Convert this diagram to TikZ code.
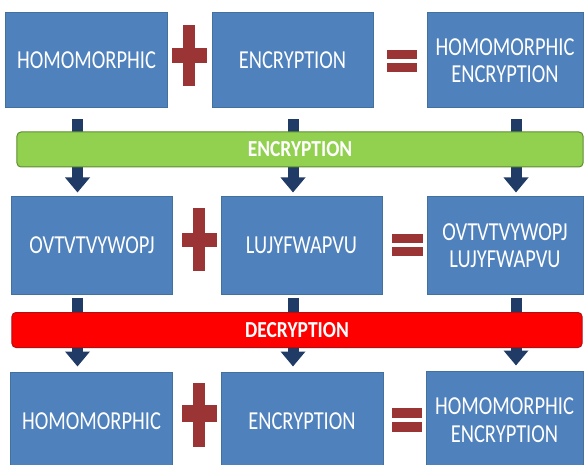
\documentclass[tikz,border=0pt]{standalone}
\usepackage{fontspec}
\setmainfont{Carlito}
\newfontfamily\boxfont[FakeStretch=0.79]{Carlito}
\newfontfamily\barfont[FakeStretch=0.85]{Carlito}
\usetikzlibrary{arrows.meta}
\definecolor{boxblue}{HTML}{4F81BD}
\definecolor{boxedge}{HTML}{41719C}
\definecolor{encgreen}{HTML}{92D050}
\definecolor{encedge}{HTML}{5E8C31}
\definecolor{decred}{HTML}{FF0000}
\definecolor{decedge}{HTML}{B01010}
\definecolor{flownavy}{HTML}{1F3B66}
\definecolor{signred}{HTML}{9B3535}
\begin{document}
\begin{tikzpicture}[x=1bp,y=-1bp,
  blk/.style={draw=boxedge,fill=boxblue,line width=1bp,text=white,align=center,
    inner sep=0pt,minimum height=95bp,font=\boxfont\fontsize{26}{27.5}\selectfont},
  bar/.style={draw,line width=1bp,rounded corners=4bp,minimum height=35bp,
    text=white,inner sep=0pt,font=\barfont\bfseries\fontsize{23}{24}\selectfont},
  flow/.style={draw=flownavy,line width=11bp,-{Triangle[width=24bp,length=15bp]}},
  sign/.style={fill=signred}]
\useasboundingbox (0,0) rectangle (584,465);
% ================= row 1: plain text =================
\node[blk,minimum width=161bp] (hom1) at (86.5,60.5) {HOMOMORPHIC};
\node[blk,minimum width=161bp] (enc1) at (292.5,60.5) {ENCRYPTION};
\node[blk,minimum width=156bp] (res1) at (505,60.5) {HOMOMORPHIC\\ENCRYPTION};
\fill[sign] (183,25) rectangle (195,86);
\fill[sign] (172,48) rectangle (207,63);
\fill[sign] (387,50) rectangle (417,59);
\fill[sign] (387,63) rectangle (417,72);
% ================= row 2: cipher text =================
\node[blk,minimum width=160bp,minimum height=97bp] (hom2) at (92,245.5) {OVTVTVYWOPJ};
\node[blk,minimum width=161bp,minimum height=97bp] (enc2) at (301.5,245.5) {LUJYFWAPVU};
\node[blk,minimum width=156bp,minimum height=97bp] (res2) at (505,245.5) {OVTVTVYWOPJ\\LUJYFWAPVU};
\fill[sign] (193,208) rectangle (205,271);
\fill[sign] (182,233) rectangle (217,247);
\fill[sign] (392,234) rectangle (423,243);
\fill[sign] (392,247) rectangle (423,256);
% ================= row 3: decrypted text =================
\node[blk,minimum width=161bp,minimum height=98bp] (hom3) at (91.5,421) {HOMOMORPHIC};
\node[blk,minimum width=162bp,minimum height=98bp] (enc3) at (302,421) {ENCRYPTION};
\node[blk,minimum width=157bp,minimum height=98bp] (res3) at (504.5,420) {HOMOMORPHIC\\ENCRYPTION};
\fill[sign] (193,383) rectangle (205,447);
\fill[sign] (182,405) rectangle (217,422);
\fill[sign] (392,408) rectangle (422,418);
\fill[sign] (392,422) rectangle (422,432);
% arrow columns
\coordinate (c1) at (77.5,0);
\coordinate (c2) at (293,0);
\coordinate (c3) at (516,0);
\draw[flow,shorten <=11bp,shorten >=4bp] (hom1.south -| c1) -- (hom2.north -| c1);
\draw[flow,shorten <=11bp,shorten >=4bp] (enc1.south -| c2) -- (enc2.north -| c2);
\draw[flow,shorten <=11bp,shorten >=4bp] (res1.south -| c3) -- (res2.north -| c3);
\draw[flow,shorten <=3bp,shorten >=5bp] (hom2.south -| c1) -- (hom3.north -| c1);
\draw[flow,shorten <=3bp,shorten >=5bp] (enc2.south -| c2) -- (enc3.north -| c2);
\draw[flow,shorten <=3bp,shorten >=5bp] (res2.south -| c3) -- (res3.north -| c3);
% bars over the arrows
\node[bar,draw=encedge,fill=encgreen,minimum width=566bp] (encbar) at (300,149.5) {ENCRYPTION};
\node[bar,draw=decedge,fill=decred,minimum width=570bp] (decbar) at (297,330) {DECRYPTION};
\end{tikzpicture}
\end{document}
